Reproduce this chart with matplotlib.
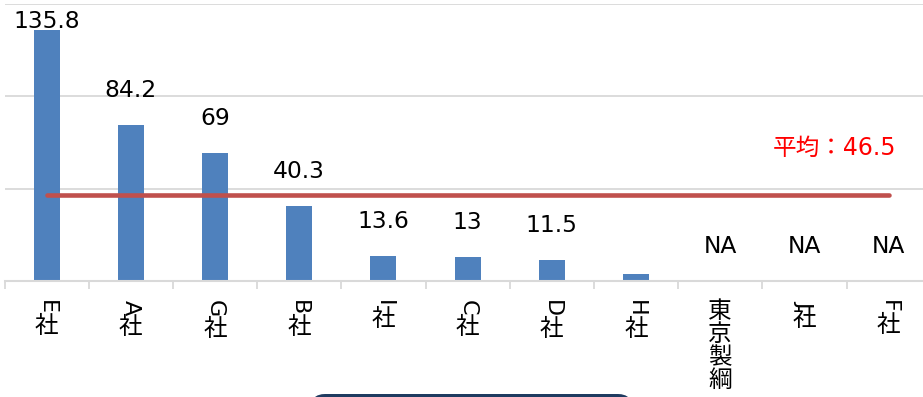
import matplotlib
matplotlib.use('Agg')
import matplotlib.pyplot as plt
import numpy as np
from matplotlib.patches import FancyBboxPatch
from matplotlib.transforms import IdentityTransform

companies = ["E社", "A社", "G社", "B社", "I社", "C社", "D社", "H社", "東京製綱", "J社", "F社"]
values = [135.8, 84.2, 69, 40.3, 13.6, 13, 11.5, 4, np.nan, np.nan, np.nan]
value_labels = ["135.8", "84.2", "69", "40.3", "13.6", "13", "11.5", "", "NA", "NA", "NA"]
average = 46.5
average_label = "平均：46.5"

BAR = "#4F81BD"
LINE = "#C0504D"
GRID = "#D9D9D9"
FAM = ["DejaVu Sans", "Noto Sans CJK JP"]

fig = plt.figure(figsize=(9.23, 3.97), dpi=100)
W, H = 923, 397
ax = fig.add_axes([4.5 / W, 116 / H, 926.2 / W, 277.5 / H])

x = np.arange(len(companies))
ax.bar(x, np.nan_to_num(values), width=0.31, color=BAR, zorder=2)
ax.plot(x, [average] * len(x), color=LINE, lw=3.3, solid_capstyle='round', zorder=3)

ax.set_xlim(-0.5, len(companies) - 0.5)
ax.set_ylim(0, 150)
ax.set_yticks([0, 50, 100, 150])
ax.yaxis.grid(True, color=GRID, lw=1.3, zorder=0)
ax.set_axisbelow(True)
ax.tick_params(axis='y', left=False, labelleft=False)
for s in ['top', 'right', 'left']:
    ax.spines[s].set_visible(False)
ax.spines['bottom'].set_color(GRID)
ax.spines['bottom'].set_linewidth(1.5)
ax.set_xticks(x)
ax.set_xticklabels([])
ax.tick_params(axis='x', which='major', length=0)
ax.set_xticks(np.arange(len(companies) + 1) - 0.5, minor=True)
ax.tick_params(axis='x', which='minor', length=6, width=1.3, color=GRID)

# value labels
px_per_unit = (277.5) / 150.0
axes_h_px = 277.5
for i, (v, lab) in enumerate(zip(values, value_labels)):
    if not lab:
        continue
    vv = 0 if np.isnan(v) else v
    ypx = min(vv * px_per_unit + 28, axes_h_px - 24)
    ax.annotate(lab, xy=(i, 0), xytext=(0, ypx), textcoords='offset pixels',
                ha='center', va='baseline', fontsize=16.8, color='#000000',
                family=FAM, annotation_clip=False)

# average label
ax.annotate(average_label, xy=(len(companies) - 1, average), xytext=(8, 40),
            textcoords='offset pixels', ha='right', va='baseline', fontsize=17,
            color='#FF0000', family=FAM)

# vertical category labels
renderer = fig.canvas.get_renderer()
for i, name in enumerate(companies):
    cursor = 19.0
    for ch in name:
        if ord(ch) < 128:
            t = ax.annotate(ch, xy=(i, 0), xytext=(0, 0), textcoords='offset pixels',
                            ha='center', va='center', rotation=-90, fontsize=16,
                            family=FAM, annotation_clip=False)
            bb = t.get_window_extent(renderer=renderer)
            h = bb.height
            t.set_position((0, -(cursor + h / 2)))
            cursor += h + 1
        else:
            ax.annotate(ch, xy=(i, 0), xytext=(0, -(cursor + 11.5)), textcoords='offset pixels',
                        ha='center', va='center', fontsize=17,
                        family=["Noto Sans CJK JP", "DejaVu Sans"], annotation_clip=False)
            cursor += 23

# dark rounded shape at bottom
box = FancyBboxPatch((311, -25), 321, 28, boxstyle='round,pad=0,rounding_size=14',
                     transform=IdentityTransform(), facecolor="#1F3B60", edgecolor='none')
fig.add_artist(box)

fig.savefig('out.png', dpi=100)
